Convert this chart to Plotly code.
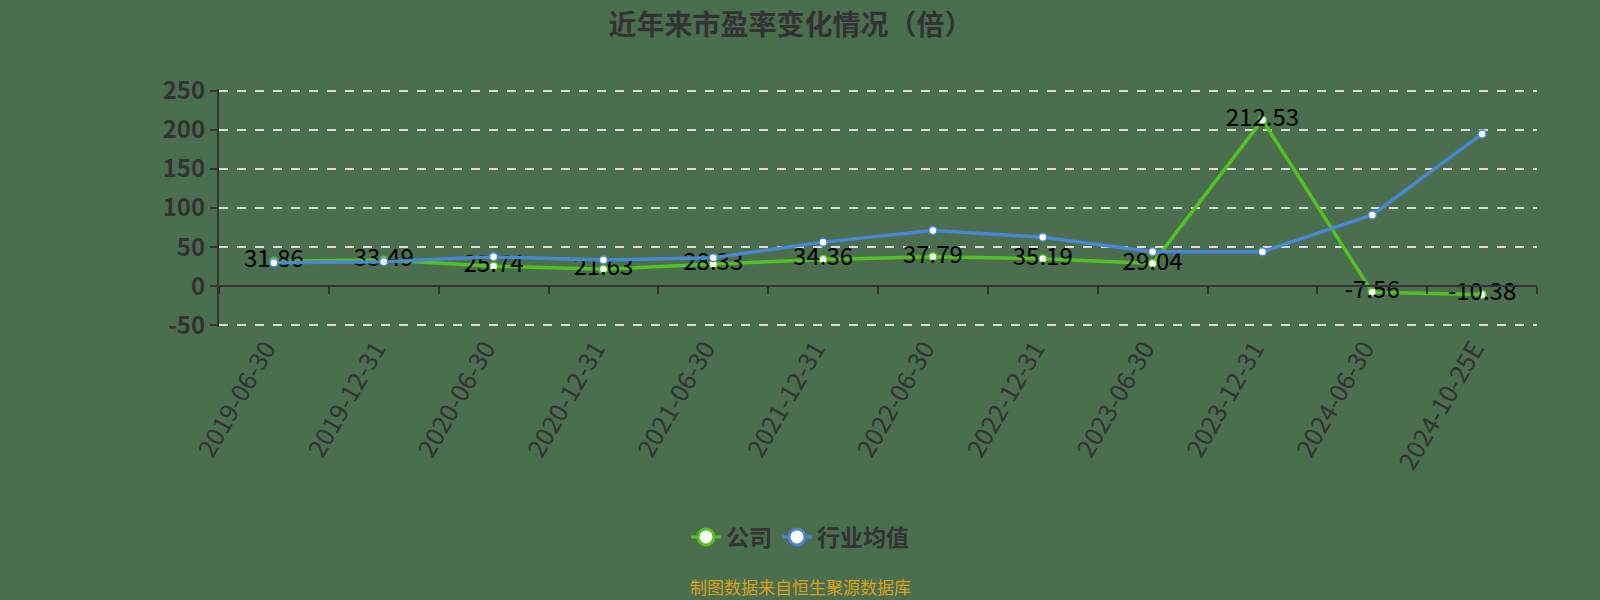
import plotly.graph_objects as go

# dados do grafico
datas = ['2019-06-30', '2019-12-31', '2020-06-30', '2020-12-31', '2021-06-30', '2021-12-31',
         '2022-06-30', '2022-12-31', '2023-06-30', '2023-12-31', '2024-06-30', '2024-10-25E']
pe_empresa = [31.86, 33.49, 25.74, 21.63, 28.33, 34.36, 37.79, 35.19, 29.04, 212.53, -7.56, -10.38]
pe_setor = [30.0, 31.4, 37.8, 33.5, 36.5, 56.4, 71.2, 62.7, 44.1, 44.1, 91.2, 194.6]
rotulos_empresa = ['%.2f' % v for v in pe_empresa]
ticks_y = [-50, 0, 50, 100, 150, 200, 250]
ticks_y_texto = [str(v) for v in ticks_y]

verde = '#55c022'
azul = '#4a87d2'
fundo = '#4a6e4e'
fonte = 'Noto Sans CJK SC'

# folga de 2 unidades nas pontas para o plotly nao esconder as grades de -50 e 250
faixa_y = [-52, 252]

fig = go.Figure()

fig.add_trace(go.Scatter(x=datas, y=pe_empresa, mode='lines+markers+text', name='公司',
                         legendgroup='empresa', showlegend=False,
                         line=dict(color=verde, width=3.5),
                         marker=dict(size=8, color='white', line=dict(color=verde, width=1.5)),
                         text=rotulos_empresa, textposition='middle center',
                         textfont=dict(family=fonte, size=24, color='black')))
fig.add_trace(go.Scatter(x=datas, y=pe_setor, mode='lines+markers', name='行业均值',
                         legendgroup='setor', showlegend=False,
                         line=dict(color=azul, width=3.5),
                         marker=dict(size=8, color='white', line=dict(color=azul, width=1.5))))
# as duas series de novo so para a legenda (marcador grande)
fig.add_trace(go.Scatter(x=[None], y=[None], mode='lines+markers', name='公司', legendgroup='empresa',
                         line=dict(color=verde, width=3),
                         marker=dict(size=20, color='white', line=dict(color=verde, width=3))))
fig.add_trace(go.Scatter(x=[None], y=[None], mode='lines+markers', name='行业均值', legendgroup='setor',
                         line=dict(color=azul, width=3),
                         marker=dict(size=20, color='white', line=dict(color=azul, width=3))))

fig.update_layout(
    width=1600, height=600,
    paper_bgcolor=fundo, plot_bgcolor=fundo,
    margin=dict(l=219, r=63, t=89, b=273),
    font=dict(family=fonte, color='#333333'),
    title=dict(text='<b>近年来市盈率变化情况（倍）</b>', x=0.494, xanchor='center',
               y=1 - 25 / 600, yanchor='middle',
               font=dict(family=fonte, size=28, color='#333333')),
    legend=dict(orientation='h', x=0.5, xanchor='center', xref='container',
                y=1 - 537 / 600, yanchor='middle', yref='container',
                traceorder='grouped', tracegroupgap=22,
                font=dict(family=fonte, size=23, color='#333333', weight='bold'),
                bgcolor='rgba(0,0,0,0)'),
    annotations=[dict(text='制图数据来自恒生聚源数据库', xref='paper', yref='paper',
                      x=(800 - 219) / 1318, y=(327 - 586) / 238, xanchor='center', yanchor='middle',
                      showarrow=False, font=dict(family=fonte, size=17, color='#d9a21b'))],
)

fig.update_yaxes(range=faixa_y, tickvals=ticks_y, ticktext=ticks_y_texto,
                 showline=True, linecolor='#333333', linewidth=2,
                 ticks='outside', ticklen=7, tickcolor='#333333', tickwidth=2,
                 showgrid=True, gridcolor='#dddddd', griddash='dash', gridwidth=1.5,
                 zeroline=False, automargin=False,
                 tickfont=dict(family=fonte, size=24, color='#333333', weight='bold'))
fig.update_xaxes(type='category', range=[-0.5, len(datas) - 0.5], anchor='free',
                 position=(0 - faixa_y[0]) / (faixa_y[1] - faixa_y[0]),
                 showline=True, linecolor='#333333', linewidth=2,
                 ticks='outside', tickson='boundaries', ticklen=7, tickcolor='#333333', tickwidth=2,
                 showgrid=False, tickangle=-60, ticklabelstandoff=37, ticklabelshift=-8,
                 automargin=False,
                 tickfont=dict(family=fonte, size=25, color='#333333'))

fig.write_html('out.html', config={'displayModeBar': False},
               post_script="document.body.style.margin='0';")
